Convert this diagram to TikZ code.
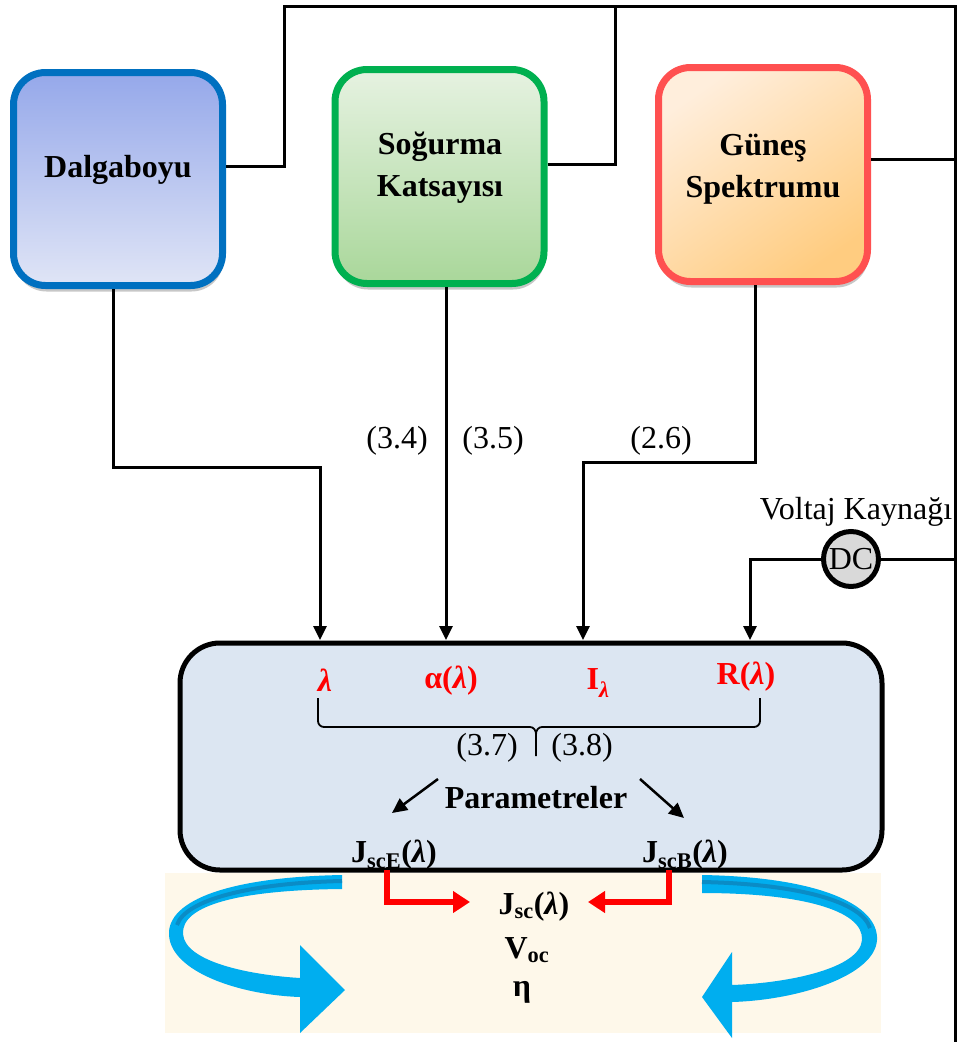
\documentclass[tikz,border=0pt]{standalone}
\usepackage{fontspec}
\setmainfont{Liberation Serif}
\usetikzlibrary{arrows.meta,shadows}

\definecolor{dbBorder}{HTML}{0070C0}
\definecolor{dbTop}{HTML}{95A8EA}
\definecolor{dbBot}{HTML}{E0E5F6}
\definecolor{sgBorder}{HTML}{00B050}
\definecolor{sgTop}{HTML}{E6F2E1}
\definecolor{sgBot}{HTML}{A9D79A}
\definecolor{gsBorder}{HTML}{FF5050}
\definecolor{gsA}{HTML}{FFEEDC}
\definecolor{gsB}{HTML}{FFCC80}
\definecolor{mainFill}{HTML}{DCE6F2}
\definecolor{beige}{HTML}{FEF8EA}
\definecolor{arrowBlue}{HTML}{00AEEF}
\definecolor{stripeBlue}{HTML}{0A8CC6}
\definecolor{dcGray}{HTML}{D9D9D9}
\definecolor{labRed}{HTML}{FF0000}

\newcommand{\lam}{\textit{λ}}

\begin{document}
\begin{tikzpicture}[x=1pt,y=-1pt,
  every node/.style={font=\fontsize{32}{42}\selectfont},
  srcbox/.style={rectangle, rounded corners=32pt, line width=7pt,
    minimum width=209pt, minimum height=213pt, inner sep=0pt,
    drop shadow={shadow xshift=1pt, shadow yshift=-6pt, fill=black!40, opacity=.55}},
  boxtext/.style={font=\fontsize{32}{42}\selectfont\bfseries, align=center},
  wire/.style={line width=3pt},
  tip/.style={-{Triangle[length=14pt,width=13pt]}},
  redlab/.style={text=labRed, font=\fontsize{32}{40}\selectfont\bfseries},
  blacklab/.style={font=\fontsize{32}{40}\selectfont\bfseries},
  redarr/.style={draw=labRed, line width=6pt, -{Triangle[length=17pt,width=21pt]}},
  thinarr/.style={line width=2.5pt, -{Triangle[length=15pt,width=14pt]}}]

\useasboundingbox (0,0) rectangle (960,1042);

% output panel behind the results
\fill[beige] (165,873) rectangle (881,1033);

% input blocks
\node[srcbox, draw=dbBorder, top color=dbTop, bottom color=dbBot] (dalga) at (118,179) {};
\node[srcbox, draw=sgBorder, top color=sgTop, bottom color=sgBot, minimum height=214pt] (sogurma) at (439.5,176.5) {};
\node[srcbox, draw=gsBorder, top color=gsA, bottom color=gsB, shading angle=35, minimum height=214pt] (gunes) at (763,174.5) {};
\node[boxtext] (dalgaT) at (118,170) {Dalgaboyu};
\node[boxtext] (sogurmaT) at (440,168) {Soğurma\\Katsayısı};
\node[boxtext] (gunesT) at (763,169) {Güneş\\Spektrumu};

% model block
\node[draw, line width=5pt, fill=mainFill, rounded corners=40pt,
  minimum width=702pt, minimum height=227pt] (core) at (531,756.5) {};

% bus wiring
\coordinate (topL) at (284,6);
\coordinate (topM) at (615,6);
\coordinate (topR) at (955,6);
\coordinate (botR) at (955,1042);
\draw[wire] ([yshift=13pt]dalga.east) -| (topL) -- (topR) -- (botR);
\draw[wire] ([yshift=12.5pt]sogurma.east) -| (topM);
\draw[wire] ([yshift=15.5pt]gunes.east) -- ([yshift=15.5pt]gunes.east -| topR);

% inputs into the model
\coordinate (bendA) at (320,467);
\coordinate (inA) at (320,640);
\coordinate (inB) at (446,640);
\coordinate (bendC) at (583,462);
\coordinate (inC) at (583,640);
\coordinate (inD) at (750,640);
\draw[wire,tip] ([xshift=-4.5pt]dalga.south) |- (bendA) -- (inA);
\draw[wire,tip] ([xshift=6.5pt]sogurma.south) -- (inB);
\draw[wire,tip] ([xshift=-8pt]gunes.south) |- (bendC) -- (inC);

\node (e34) at (397,441) {(3.4)};
\node (e35) at (493,441) {(3.5)};
\node (e26) at (661,441) {(2.6)};

% DC voltage source
\node (vk) at (856,512) {Voltaj Kaynağı};
\node[circle, draw, line width=5pt, fill=dcGray, minimum size=55pt, inner sep=0pt] (dc) at (851,559) {DC};
\draw[wire] (dc.east) -- (dc.east -| topR);
\draw[wire,tip] (dc.west) -| (inD);

% model inputs
\node[redlab] (lamT) at (325,680) {\lam};
\node[redlab] (alphaT) at (451,681) {α(\lam)};
\node[redlab] (intT) at (598,683) {I\textsubscript{\lam}};
\node[redlab] (reflT) at (746,677) {R(\lam)};

% grouping brace
\draw[line width=1.8pt] (318,698) -- (318,721) to[out=-90,in=180] (324,727) -- (530,727)
  to[out=0,in=90] (536,734) -- (536,756);
\draw[line width=1.8pt] (760,698) -- (760,721) to[out=-90,in=0] (754,727) -- (542,727)
  to[out=180,in=90] (536,734);
\node (e37) at (487,748) {(3.7)};
\node (e38) at (582,748) {(3.8)};

% parameters
\node[blacklab] (param) at (536,798) {Parametreler};
\coordinate (pa1) at (438,779);
\coordinate (pa2) at (392,813);
\coordinate (pb1) at (640,779);
\coordinate (pb2) at (684,818);
\draw[thinarr] (pa1) -- (pa2);
\draw[thinarr] (pb1) -- (pb2);
\node[blacklab] (jE) at (394,855) {J\textsubscript{scE}(\lam)};
\node[blacklab] (jB) at (685,855) {J\textsubscript{scB}(\lam)};

% outputs
\node[blacklab] (jsc) at (534,907) {J\textsubscript{sc}(\lam)};
\node[blacklab] (voc) at (527,950) {V\textsubscript{oc}};
\node[blacklab] (eta) at (522,992) {η};

\coordinate (rL0) at (387,870);
\coordinate (rL1) at (470,902);
\coordinate (rR0) at (669,870);
\coordinate (rR1) at (588,902);
\draw[redarr] (rL0) |- (rL1);
\draw[redarr] (rR0) |- (rR1);

% circular arrows
\fill[arrowBlue] (342,875) .. controls (230,877) and (167,900) .. (169,935)
  .. controls (171,972) and (240,995) .. (300,997) -- (300,1033) -- (345,990)
  -- (300,945) -- (300,978) .. controls (250,975) and (185,962) .. (183,934)
  .. controls (181,905) and (240,890) .. (342,889) -- cycle;
\draw[stripeBlue, line width=4pt] (342,881) .. controls (250,883) and (185,900) .. (177,925);
\fill[arrowBlue] (702,875) .. controls (820,877) and (879,905) .. (877,940)
  .. controls (875,975) and (800,1000) .. (732,1002) -- (732,1038) -- (702,997)
  -- (732,952) -- (732,985) .. controls (790,983) and (860,968) .. (862,940)
  .. controls (864,910) and (800,893) .. (702,893) -- cycle;
\draw[stripeBlue, line width=4pt] (702,882) .. controls (800,884) and (862,902) .. (870,928);

\end{tikzpicture}
\end{document}
